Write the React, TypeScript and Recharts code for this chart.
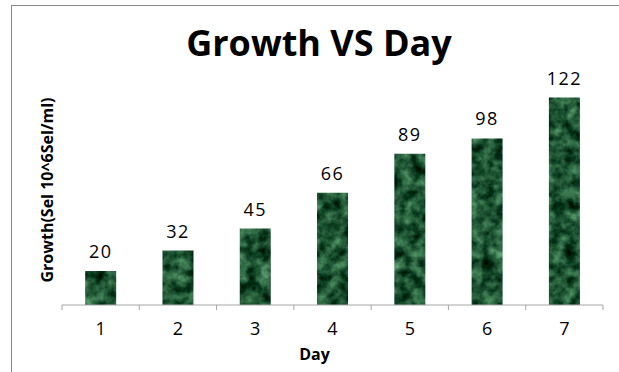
import React from "react";
import { BarChart, Bar, XAxis, YAxis, LabelList } from "recharts";

const days = ["1", "2", "3", "4", "5", "6", "7"];
const growth = [20, 32, 45, 66, 89, 98, 122];

const data = days.map((d, i) => ({ day: d, growth: growth[i] }));

const FONT = "'Open Sans', 'DejaVu Sans', sans-serif";
const AXIS_GREY = "#a6a6a6";

// tick label plus little separator marks between the days (Excel style)
function DayTick(props: any) {
  const { x, y, payload, index, visibleTicksCount } = props;
  const half = payload.offset || 0;
  const isLast = index === visibleTicksCount - 1;
  return (
    <g>
      <line x1={x - half} x2={x - half} y1={y} y2={y + 5} stroke={AXIS_GREY} />
      {isLast && <line x1={x + half} x2={x + half} y1={y} y2={y + 5} stroke={AXIS_GREY} />}
      <text x={x} y={y + 17} dy="0.71em" textAnchor="middle" fill="#000" fontSize={18} fontFamily={FONT}>
        {payload.value}
      </text>
    </g>
  );
}

export default function App() {
  return (
    <div style={{ position: "absolute", left: 0, top: 0, width: 619, height: 372, background: "#fff", fontFamily: FONT }}>
      <div style={{ position: "absolute", left: 11, top: 5, width: 607, height: 367, borderTop: "1.5px solid #878787", borderLeft: "1.5px solid #878787" }} />
      <div style={{ position: "absolute", left: 19, top: 25, width: 600, textAlign: "center", fontSize: 36, fontWeight: 700, lineHeight: "36px", color: "#000" }}>
        Growth VS Day
      </div>
      <BarChart
        width={619}
        height={372}
        data={data}
        margin={{ top: 67, right: 16, left: 0, bottom: 0 }}
        barCategoryGap="30%"
        style={{ position: "absolute", left: 0, top: 0 }}
      >
        <defs>
          <filter id="marbleNoise" x="0" y="0" width="100%" height="100%" colorInterpolationFilters="sRGB">
            <feTurbulence type="fractalNoise" baseFrequency="0.085" numOctaves="4" seed="11" result="noise" />
            <feColorMatrix
              in="noise"
              type="matrix"
              values="0.62 0 0 0 -0.19  0.78 0 0 0 -0.06  0.62 0 0 0 -0.11  0 0 0 0 1"
            />
          </filter>
          <pattern id="marble" patternUnits="userSpaceOnUse" x="0" y="0" width="619" height="372">
            <rect x="0" y="0" width="619" height="372" fill="#1d5233" filter="url(#marbleNoise)" />
          </pattern>
        </defs>
        <XAxis
          dataKey="day"
          height={67}
          axisLine={{ stroke: AXIS_GREY }}
          tickLine={false}
          tickSize={0}
          tickMargin={0}
          interval={0}
          tick={<DayTick />}
          label={{ value: "Day", position: "insideBottom", offset: 12, dx: -18, fill: "#000", fontSize: 16, fontWeight: 700, fontFamily: FONT }}
        />
        <YAxis
          domain={[0, 140]}
          width={62}
          tick={false}
          axisLine={false}
          tickLine={false}
          label={{ value: "Growth(Sel 10^6Sel/ml)", angle: -90, position: "center", dx: 16, dy: 4, fill: "#000", fontSize: 16, fontWeight: 700, fontFamily: FONT }}
        />
        <Bar dataKey="growth" fill="url(#marble)" isAnimationActive={false}>
          <LabelList dataKey="growth" position="top" offset={13} fill="#000" fontSize={18} letterSpacing={1.5} fontFamily={FONT} />
        </Bar>
      </BarChart>
    </div>
  );
}
